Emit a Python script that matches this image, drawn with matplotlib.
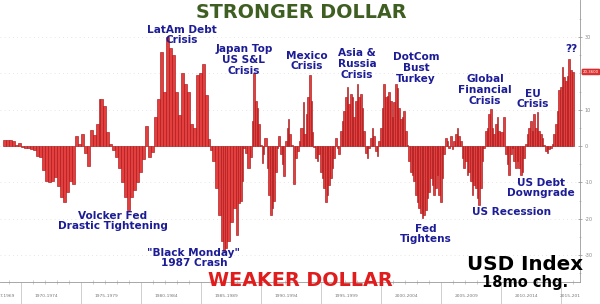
import matplotlib
matplotlib.use("Agg")
import matplotlib.pyplot as plt
import numpy as np

# ---- data: USD index 18-month % change ----
months = [
 "1968-07","1968-10","1969-01","1969-04","1969-07","1969-10","1970-01","1970-04","1970-07","1970-10",
 "1971-01","1971-04","1971-07","1971-10","1972-01","1972-04","1972-07","1972-10","1973-01","1973-04",
 "1973-07","1973-10","1974-01","1974-04","1974-07","1974-10","1975-01","1975-04","1975-07","1975-10",
 "1976-01","1976-04","1976-07","1976-08","1976-11","1977-02","1977-05","1977-08","1977-11","1978-02",
 "1978-05","1978-08","1978-11","1979-02","1979-05","1979-08","1979-11","1980-02","1980-05","1980-08",
 "1980-11","1981-02","1981-05","1981-08","1981-11","1982-02","1982-05","1982-08","1982-11","1983-02",
 "1983-05","1983-08","1983-11","1984-02","1984-05","1984-08","1984-11","1985-02","1985-05","1985-08",
 "1985-10","1985-12","1986-03","1986-06","1986-09","1986-11","1987-01","1987-03","1987-06","1987-09",
 "1987-12","1988-02","1988-04","1988-06","1988-07","1988-09","1988-11","1989-02","1989-04","1989-05",
 "1989-07","1989-09","1989-10","1989-12","1990-02","1990-03","1990-04","1990-07","1990-08","1990-10",
 "1990-12","1991-01","1991-03","1991-05","1991-06","1991-08","1991-10","1991-11","1992-01","1992-03",
 "1992-04","1992-05","1992-07","1992-09","1992-11","1993-01","1993-03","1993-04","1993-07","1993-08",
 "1993-10","1993-11","1994-01","1994-03","1994-04","1994-05","1994-07","1994-09","1994-10","1994-12",
 "1995-02","1995-03","1995-05","1995-07","1995-08","1995-10","1995-12","1996-01","1996-03","1996-05",
 "1996-06","1996-08","1996-10","1996-11","1997-01","1997-03","1997-04","1997-06","1997-08","1997-09",
 "1997-11","1998-01","1998-02","1998-04","1998-06","1998-07","1998-09","1998-11","1998-12","1999-02",
 "1999-04","1999-05","1999-07","1999-09","1999-10","1999-12","2000-02","2000-03","2000-05","2000-07",
 "2000-08","2000-10","2000-12","2001-01","2001-03","2001-05","2001-06","2001-08","2001-10","2001-11",
 "2002-01","2002-03","2002-04","2002-06","2002-08","2002-09","2002-11","2003-01","2003-02","2003-04",
 "2003-06","2003-07","2003-09","2003-11","2003-12","2004-02","2004-04","2004-05","2004-07","2004-09",
 "2004-10","2004-12","2005-02","2005-03","2005-05","2005-07","2005-08","2005-10","2005-12","2006-01",
 "2006-03","2006-05","2006-06","2006-08","2006-10","2006-11","2007-01","2007-03","2007-04","2007-06",
 "2007-08","2007-09","2007-11","2008-01","2008-02","2008-04","2008-06","2008-07","2008-09","2008-11",
 "2008-12","2009-02","2009-04","2009-05","2009-07","2009-09","2009-10","2009-12","2010-03","2010-05",
 "2010-07","2010-08","2010-10","2010-12","2011-01","2011-03","2011-05","2011-06","2011-08","2011-10",
 "2011-11","2012-01","2012-03","2012-04","2012-06","2012-08","2012-09","2012-11","2013-01","2013-02",
 "2013-04","2013-06","2013-07","2013-09","2013-11","2013-12","2014-02","2014-04","2014-05","2014-07",
 "2014-09","2014-10","2014-12","2015-02","2015-03","2015-05","2015-07","2015-08","2015-10","2015-12",
]
usd_18mo_chg = [
 1.8, 1.8, 1.8, 1.5, 0.3, 0.8, -0.2, -0.4, -0.5, -0.8,
 -1.2, -2.8, -3.0, -6.5, -9.5, -10.0, -9.5, -8.5, -11.0, -14.0,
 -15.5, -12.5, -9.5, -10.5, 2.8, 0.5, 3.3, -2.0, -5.5, 4.5,
 3.0, 6.0, 13.0, 13.0, 11.0, 4.0, 0.5, -1.0, -3.0, -6.0,
 -10.0, -14.0, -17.5, -14.0, -12.0, -10.0, -7.0, -3.5, 5.5, -3.0,
 -1.5, 8.0, 13.0, 26.0, 15.0, 30.0, 27.0, 25.0, 15.0, 8.5,
 20.0, 17.0, 15.0, 6.0, 5.0, 19.5, 20.0, 22.5, 14.0, 2.0,
 -1.0, -4.0, -11.5, -19.0, -26.0, -29.0, -28.0, -26.0, -21.0, -17.0,
 -24.5, -15.7, -15.0, -9.7, -0.5, -2.0, -6.0, -3.0, 7.0, 20.0,
 12.5, 10.6, 6.0, 0.3, -4.6, -2.3, 2.3, -6.0, -13.4, -19.0,
 -17.0, -15.0, -7.0, -0.5, 2.8, -2.3, -5.0, -8.3, 1.4, 5.0,
 7.4, 3.2, 0.3, -10.5, -3.2, -1.4, 1.4, 5.0, 12.0, 3.2,
 8.8, 13.4, 19.5, 12.5, 4.0, -0.3, -3.2, -4.0, -2.3, -7.0,
 -8.8, -11.6, -15.3, -13.4, -10.6, -8.8, -6.0, -3.2, 2.3, -0.5,
 -2.3, 4.2, 7.0, 9.7, 13.4, 16.2, 11.6, 14.4, 13.4, 7.9,
 12.5, 17.0, 13.4, 14.4, 10.6, 4.2, -1.8, -3.2, -0.5, 2.3,
 5.0, 2.8, -1.4, -2.8, 1.4, 5.0, 10.6, 17.0, 13.4, 13.9,
 14.8, 12.5, 7.9, 12.0, 17.0, 16.0, 10.6, 7.5, 7.9, 9.7,
 4.2, 0.3, -4.2, -7.0, -7.9, -9.7, -13.4, -15.3, -17.0, -18.5,
 -19.9, -19.0, -17.6, -14.4, -12.5, -8.8, -10.6, -13.4, -11.6, -7.9,
 -13.4, -15.3, -8.8, -2.3, 2.3, 1.4, -0.5, 2.8, -0.9, 1.4,
 3.2, 5.0, 2.8, 1.4, -3.2, -6.0, -4.2, -7.9, -7.0, -9.7,
 -13.4, -10.6, -11.6, -14.4, -16.2, -11.6, -4.2, -0.5, 4.2, 5.0,
 8.8, 10.2, 5.0, 3.2, 6.0, 7.9, 4.2, 4.0, 7.9, -2.3,
 -5.0, -7.9, -2.3, -0.5, -4.2, -6.0, -4.2, -6.0, -7.9, -7.0,
 -3.2, 0.5, 3.2, 5.0, 7.0, 4.2, 8.8, 5.0, 9.3, 4.2,
 3.2, 2.3, 0.3, -1.4, -1.8, -0.9, -0.5, 0.5, 3.2, 6.0,
 9.7, 15.3, 16.2, 21.8, 19.0, 18.0, 19.4, 24.0, 20.8, 20.4,
]
period_labels = ["7-1969", "1970-1974", "1975-1979", "1980-1984", "1985-1989", "1990-1994",
                 "1995-1999", "2000-2004", "2005-2009", "2010-2014", "2015-201"]
period_starts = [1968.25, 1970, 1975, 1980, 1985, 1990, 1995, 2000, 2005, 2010, 2015]
ytick_values = [-30, -20, -10, 0, 10, 30]
last_value_label = "20.3600"
last_value = 20.4

# ---- figure ----
W, H = 600, 304
fig = plt.figure(figsize=(W / 100, H / 100), dpi=100)
fig.patch.set_facecolor("white")

def px(x, y):
    return x / W, 1 - y / H

ax = fig.add_axes([0, 22 / H, 580 / W, 282 / H])
dec = np.array([int(m[:4]) + (int(m[5:]) - 1) / 12 for m in months])
widths = np.append(np.diff(dec), 2 / 12)
ax.bar(dec, usd_18mo_chg, width=widths, align="edge", color="#e43e3e",
       edgecolor="#a81818", linewidth=0.45, zorder=3)

x_end = 1968.25 + 580 / 12
ax.set_xlim(1968.25, x_end)
ax.set_ylim(-37.4, 40.2)

for s in ["top", "left"]:
    ax.spines[s].set_visible(False)
ax.spines["right"].set_color("#999999")
ax.spines["right"].set_linewidth(0.6)
ax.spines["bottom"].set_color("#999999")
ax.spines["bottom"].set_linewidth(0.6)

ax.yaxis.tick_right()
ax.set_yticks(ytick_values)
ax.set_yticklabels([str(v) for v in ytick_values])
ax.tick_params(axis="y", direction="inout", length=3, width=0.5, colors="#888888",
               labelsize=3.5, pad=2)
ax.set_yticks(np.arange(-35, 40, 5), minor=True)
ax.tick_params(axis="y", which="minor", direction="inout", length=1.5, width=0.4, colors="#aaaaaa")
ax.grid(axis="y", which="major", linestyle=(0, (1, 4)), color="#dddddd", linewidth=0.6, zorder=0)
ax.axhline(20, linestyle=(0, (1, 4)), color="#dddddd", linewidth=0.6, zorder=0)

# x axis: period separators and labels
ax.set_xticks(period_starts[1:])
ax.set_xticklabels([])
ax.tick_params(axis="x", direction="out", length=22, width=0.5, colors="#bbbbbb")
ax.set_xticks(np.arange(1969, 2017, 1), minor=True)
ax.tick_params(axis="x", which="minor", direction="inout", length=3, width=0.4, colors="#aaaaaa")
bounds = period_starts + [x_end]
for i, lab in enumerate(period_labels):
    if i == 0:
        cx = 1968.9
    elif i == len(period_labels) - 1:
        cx = (bounds[i] + bounds[i + 1]) / 2
    else:
        cx = (bounds[i] + bounds[i + 1]) / 2 - 0.4
    ax.text(cx, -0.05, lab, transform=ax.get_xaxis_transform(), ha="center", va="center",
            fontsize=3.2, color="#777777", clip_on=False)

# last value marker (sits on the axis at the last value)
ax.annotate(last_value_label, xy=(1.0, last_value), xycoords=("axes fraction", "data"),
            xytext=(11, 0), textcoords="offset pixels", ha="center", va="center",
            fontsize=2.8, color="white", annotation_clip=False,
            bbox=dict(boxstyle="round,pad=0.25", fc="#e03030", ec="#c02020", lw=0.4))

# ---- annotations ----
navy = "#1c1c96"
fkw = dict(ha="center", va="center", fontweight="bold", color=navy, fontsize=7.6,
           family="DejaVu Sans", linespacing=1.1)
notes = [
    ("LatAm Debt\nCrisis", 182, 35),
    ("Japan Top\nUS S&L\nCrisis", 244, 60),
    ("Mexico\nCrisis", 307, 61),
    ("Asia &\nRussia\nCrisis", 357, 64),
    ("DotCom\nBust\nTurkey", 416, 68),
    ("Global\nFinancial\nCrisis", 485, 90),
    ("EU\nCrisis", 533, 99),
    ("??", 571, 49),
    ("Volcker Fed\nDrastic Tightening", 113, 221),
    ("\"Black Monday\"\n1987 Crash", 194, 258),
    ("Fed\nTightens", 426, 234),
    ("US Debt\nDowngrade", 541, 188),
    ("US Recession", 512, 212),
]
for txt, x, y in notes:
    fig.text(*px(x, y), txt, **fkw)

fig.text(*px(301, 12), "STRONGER DOLLAR", ha="center", va="center", fontweight="bold",
         color="#3f5f22", fontsize=13.8, family="DejaVu Sans")
fig.text(*px(300, 281), "WEAKER DOLLAR", ha="center", va="center", fontweight="bold",
         color="#e01c1c", fontsize=13.8, family="DejaVu Sans")
fig.text(*px(525, 265), "USD Index", ha="center", va="center", fontweight="bold",
         color="black", fontsize=14.3, family="DejaVu Sans")
fig.text(*px(525, 283), "18mo chg.", ha="center", va="center", fontweight="bold",
         color="black", fontsize=10.5, family="DejaVu Sans")

fig.savefig("out.png", dpi=100)
